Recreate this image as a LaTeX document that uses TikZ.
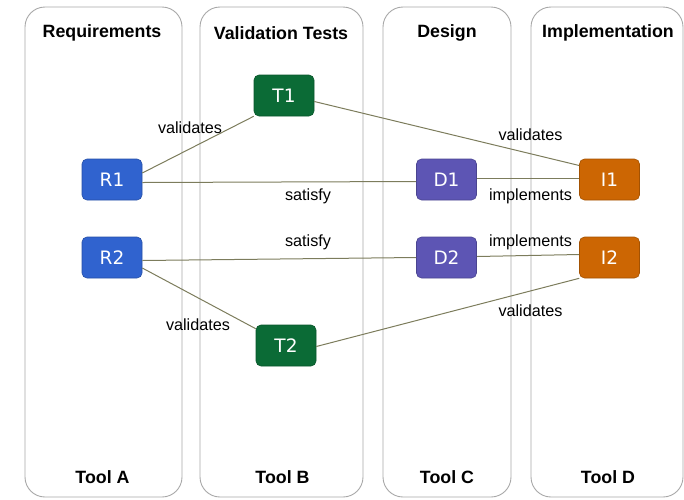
\documentclass[tikz,border=0pt]{standalone}
\usepackage{fontspec}
\usetikzlibrary{backgrounds}
\setmainfont{Liberation Sans}
\newfontfamily\boxfont{DejaVu Sans}
\definecolor{reqblue}{HTML}{3063CF}
\definecolor{testgreen}{HTML}{0B6B36}
\definecolor{desviolet}{HTML}{5D55B4}
\definecolor{implorange}{HTML}{CC6603}
\definecolor{linkolive}{HTML}{7C7C5C}
\definecolor{lanegray}{HTML}{A8A8A8}
\begin{document}
\begin{tikzpicture}[x=1pt,y=-1pt,
  lane/.style={draw=lanegray,line width=0.9pt,rounded corners=20pt},
  lanetitle/.style={font=\fontsize{17.8}{20}\selectfont\bfseries,text=black},
  item/.style={rounded corners=5pt,minimum width=60pt,minimum height=41pt,
    inner sep=0pt,text=white,font=\boxfont\fontsize{18.5}{20}\selectfont,
    line width=0.6pt},
  req/.style={item,fill=reqblue,draw=reqblue!80!black},
  tst/.style={item,fill=testgreen,draw=testgreen!80!black},
  des/.style={item,fill=desviolet,draw=desviolet!80!black},
  imp/.style={item,fill=implorange,draw=implorange!80!black},
  link/.style={draw=linkolive,line width=1pt},
  tag/.style={font=\fontsize{16.2}{18}\selectfont,text=black,inner sep=0pt}]
\useasboundingbox (0,0) rectangle (684,499);

% tool lanes
\begin{scope}[on background layer]
\draw[lane] (25,7) rectangle (182,497);
\draw[lane] (200,7) rectangle (363,497);
\draw[lane] (383,7) rectangle (511,497);
\draw[lane] (531,7) rectangle (683,497);
\end{scope}

\node[lanetitle] (hA) at (102,33) {Requirements};
\node[lanetitle] (hB) at (281,33) {Validation Tests};
\node[lanetitle] (hC) at (447,33) {Design};
\node[lanetitle] (hD) at (608,33) {Implementation};

\node[lanetitle] (fA) at (102.5,477) {Tool A};
\node[lanetitle] (fB) at (282.5,477) {Tool B};
\node[lanetitle] (fC) at (447,477) {Tool C};
\node[lanetitle] (fD) at (608,477) {Tool D};

% artefacts
\node[req] (R1) at (112,179.5) {R1};
\node[req] (R2) at (112,257.5) {R2};
\node[tst] (T1) at (284,95.5) {T1};
\node[tst] (T2) at (286,345.5) {T2};
\node[des] (D1) at (446.5,179.5) {D1};
\node[des] (D2) at (446.5,257.5) {D2};
\node[imp] (I1) at (609.5,179.5) {I1};
\node[imp] (I2) at (609.5,257.5) {I2};

% traceability links
\draw[link] ([yshift=6.5pt]R1.east) -- (T1.south west);
\draw[link] ([yshift=-3pt]R1.east) -- ([yshift=-2pt]D1.west);
\draw[link] ([yshift=-6pt]T1.east) -- ([yshift=14pt]I1.west);
\draw[link] ([yshift=1.5pt]D1.east) -- ([yshift=1.5pt]I1.west);
\draw[link] ([yshift=-3pt]R2.east) -- (D2.west);
\draw[link] ([yshift=1pt]D2.east) -- ([yshift=3pt]I2.west);
\draw[link] ([yshift=-10.5pt]R2.east) -- ([yshift=-4pt]T2.north west);
\draw[link] ([yshift=-1pt]T2.east) -- (I2.south west);

% link labels
\node[tag] (v1) at (190,128) {validates};
\node[tag] (s1) at (308,196) {satisfy};
\node[tag] (s2) at (308,242.5) {satisfy};
\node[tag] (v2) at (530.5,135) {validates};
\node[tag] (m1) at (530.5,196) {implements};
\node[tag] (m2) at (530.5,242.5) {implements};
\node[tag] (v3) at (198,325) {validates};
\node[tag] (v4) at (530.5,310.5) {validates};
\end{tikzpicture}
\end{document}
